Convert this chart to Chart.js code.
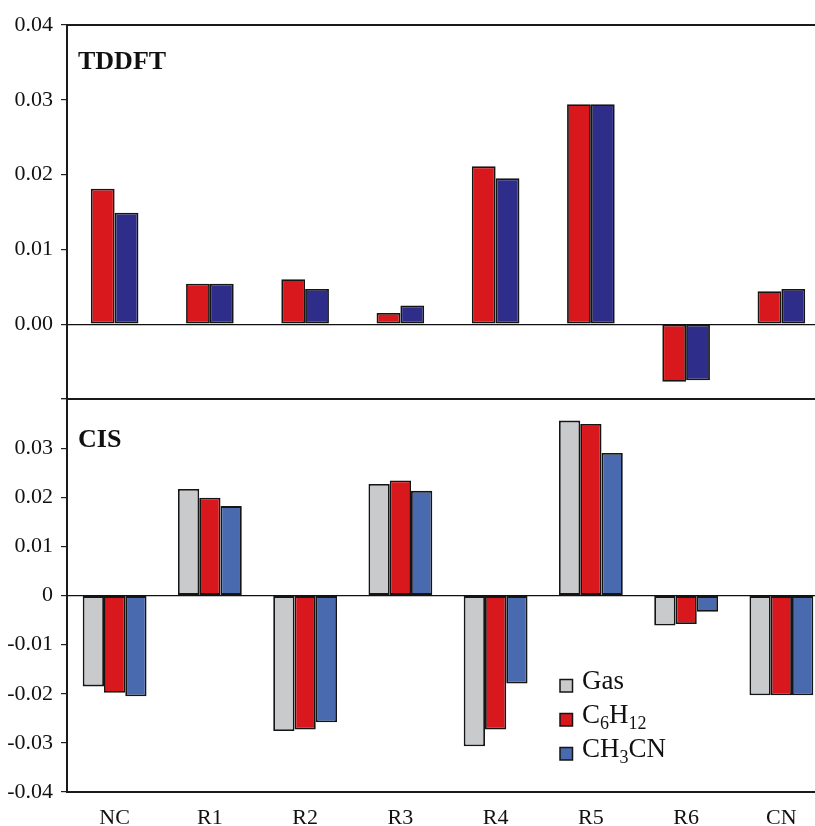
<!DOCTYPE html>
<html>
<head>
<meta charset="utf-8">
<script src="https://cdn.jsdelivr.net/npm/chart.js@4/dist/chart.umd.min.js"></script>
<style>
  html, body { margin: 0; padding: 0; background: #fff; width: 815px; height: 826px; overflow: hidden; }
  canvas { position: absolute; left: 0; }
  #topChart { top: 0; }
  #bottomChart { top: 380px; }
</style>
</head>
<body>
<canvas id="topChart" width="830" height="400"></canvas>
<canvas id="bottomChart" width="830" height="446"></canvas>
<script>
// oscillator-strength differences per state
const categories = ['NC', 'R1', 'R2', 'R3', 'R4', 'R5', 'R6', 'CN'];

const tddftC6H12 = [0.0181, 0.0054, 0.0060, 0.0015, 0.0211, 0.0294, -0.0077, 0.0044];
const tddftCH3CN = [0.0149, 0.0054, 0.0047, 0.0025, 0.0195, 0.0294, -0.0075, 0.0047];

const cisGas   = [-0.0185, 0.0217, -0.0276, 0.0227, -0.0307, 0.0356, -0.0061, -0.0203];
const cisC6H12 = [-0.0198, 0.0199, -0.0273, 0.0234, -0.0273, 0.0349, -0.0058, -0.0203];
const cisCH3CN = [-0.0205, 0.0182, -0.0258, 0.0213, -0.0179, 0.0290, -0.0033, -0.0203];

const seriesNames = ['Gas', 'C6H12', 'CH3CN'];

const RED = '#d8181c';
const NAVY = '#2e2e8a';
const BLUE = '#4a6ab0';
const GRAY = '#c9cacc';
const EDGE = '#151515';
const FRAME = '#1a1a1a';
const SERIF = '"Liberation Serif", "Times New Roman", serif';

const near = (a, b) => Math.abs(a - b) < 1e-9;

// bold panel name in the upper-left corner of the plot area
const panelLabel = {
  id: 'panelLabel',
  afterDraw(chart, args, opts) {
    const { ctx, chartArea } = chart;
    ctx.save();
    ctx.font = 'bold 26px ' + SERIF;
    ctx.fillStyle = '#111';
    ctx.textBaseline = 'alphabetic';
    ctx.fillText(opts.text, chartArea.left + opts.dx, chartArea.top + opts.dy);
    ctx.restore();
  }
};

// legend with chemical subscripts (digits after a letter drop down)
const chemLegend = {
  id: 'chemLegend',
  afterDraw(chart, args, opts) {
    if (!opts.show) return;
    const { ctx } = chart;
    ctx.save();
    chart.data.datasets.forEach((ds, i) => {
      const base = opts.y + i * opts.gap;
      const sq = 12.5;
      ctx.fillStyle = ds.backgroundColor;
      ctx.fillRect(opts.x, base + 3 - sq, sq, sq);
      ctx.strokeStyle = EDGE;
      ctx.lineWidth = 1.5;
      ctx.strokeRect(opts.x, base + 3 - sq, sq, sq);

      let x = opts.x + 22;
      ctx.fillStyle = '#111';
      ctx.textBaseline = 'alphabetic';
      const parts = ds.label.match(/[0-9]+|[^0-9]+/g);
      parts.forEach(p => {
        const sub = /^[0-9]+$/.test(p);
        ctx.font = (sub ? '18px ' : '27px ') + SERIF;
        ctx.fillText(p, x, base + (sub ? 6 : 0));
        x += ctx.measureText(p).width;
      });
    });
    ctx.restore();
  }
};

Chart.register(panelLabel, chemLegend);

function barSet(label, data, color) {
  return {
    label, data,
    backgroundColor: color,
    borderColor: EDGE,
    borderWidth: 1.8,
    borderSkipped: false,
  };
}

function yScale(min, max, fmt) {
  return {
    min, max,
    ticks: {
      stepSize: 0.01,
      padding: 8,
      color: '#111',
      font: { family: SERIF, size: 22 },
      callback: fmt,
    },
    grid: {
      color: c => (c.tick && near(c.tick.value, 0)) ? '#111' : 'rgba(0,0,0,0)',
      tickColor: '#222',
      tickLength: 6,
      lineWidth: 1.2,
    },
    border: { display: true, width: 2, color: FRAME },
    afterFit: s => { s.width = 67; s.paddingTop = 0; s.paddingBottom = 0; },
  };
}

const topFrame = {
  type: 'category',
  position: 'top',
  ticks: { display: false },
  grid: { display: false },
  border: { display: true, width: 2, color: FRAME },
  afterFit: s => { s.height = 0; },
};

new Chart(document.getElementById('topChart'), {
  type: 'bar',
  data: {
    labels: categories,
    datasets: [
      barSet(seriesNames[1], tddftC6H12, RED),
      barSet(seriesNames[2], tddftCH3CN, NAVY),
    ],
  },
  options: {
    responsive: false,
    animation: false,
    devicePixelRatio: 1,
    layout: { padding: { top: 25, right: 1, bottom: 0, left: 0 } },
    datasets: { bar: { categoryPercentage: 0.5, barPercentage: 1 } },
    plugins: {
      legend: { display: false },
      tooltip: { enabled: false },
      panelLabel: { text: 'TDDFT', dx: 11, dy: 44 },
      chemLegend: { show: false },
    },
    scales: {
      x: {
        ticks: { display: false },
        grid: { display: false },
        border: { display: true, width: 2, color: FRAME },
        afterFit: s => { s.height = 1; },
      },
      xTop: topFrame,
      y: yScale(-0.01, 0.04, v => near(v, -0.01) ? '' : v.toFixed(2)),
    },
  },
});

new Chart(document.getElementById('bottomChart'), {
  type: 'bar',
  data: {
    labels: categories,
    datasets: [
      barSet(seriesNames[0], cisGas, GRAY),
      barSet(seriesNames[1], cisC6H12, RED),
      barSet(seriesNames[2], cisCH3CN, BLUE),
    ],
  },
  options: {
    responsive: false,
    animation: false,
    devicePixelRatio: 1,
    layout: { padding: { top: 19, right: 1, bottom: 0, left: 0 } },
    datasets: { bar: { categoryPercentage: 0.67, barPercentage: 1 } },
    plugins: {
      legend: { display: false },
      tooltip: { enabled: false },
      panelLabel: { text: 'CIS', dx: 11, dy: 48 },
      chemLegend: { show: true, x: 560, y: 309, gap: 34 },
    },
    scales: {
      x: {
        ticks: {
          color: '#111',
          padding: 5,
          font: { family: SERIF, size: 22 },
        },
        grid: { display: false },
        border: { display: true, width: 2, color: FRAME },
        afterFit: s => { s.height = 34; },
      },
      xTop: topFrame,
      y: yScale(-0.04, 0.04, v => near(v, 0.04) ? '' : (near(v, 0) ? '0' : v.toFixed(2))),
    },
  },
});
</script>
</body>
</html>
